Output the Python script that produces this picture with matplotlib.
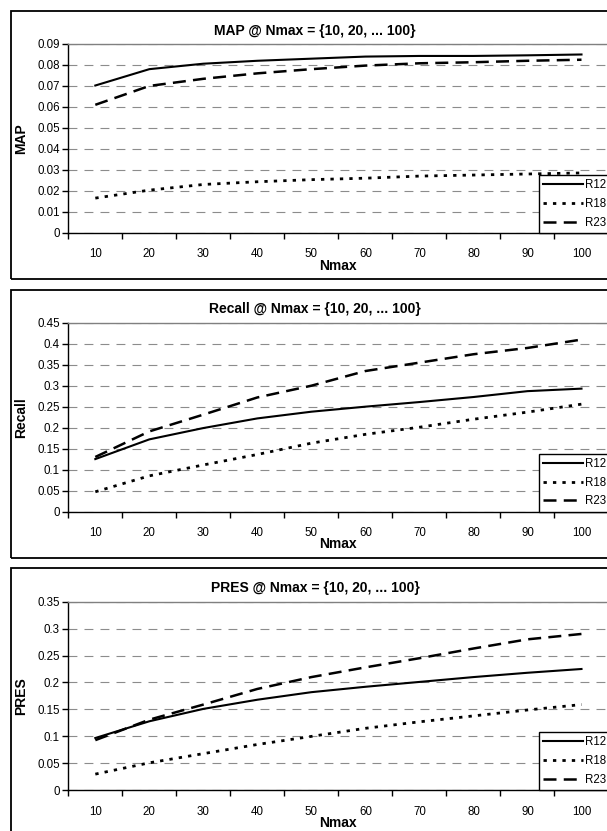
import numpy as np
import matplotlib
matplotlib.use("Agg")
import matplotlib.pyplot as plt
from matplotlib.patches import Rectangle

plt.rcParams['font.family'] = ['Liberation Sans', 'DejaVu Sans']

# categorias do eixo x
nmax = ['10', '20', '30', '40', '50', '60', '70', '80', '90', '100']
series_names = ['R12', 'R18', 'R23']

# MAP
map_r12 = [0.0702, 0.0780, 0.0806, 0.0820, 0.0830, 0.0840, 0.0843, 0.0843, 0.0846, 0.0850]
map_r18 = [0.0165, 0.0203, 0.0230, 0.0243, 0.0253, 0.0260, 0.0270, 0.0275, 0.0280, 0.0285]
map_r23 = [0.0610, 0.0700, 0.0734, 0.0760, 0.0780, 0.0797, 0.0808, 0.0813, 0.0820, 0.0825]

# Recall
recall_r12 = [0.125, 0.172, 0.199, 0.222, 0.238, 0.250, 0.261, 0.273, 0.287, 0.293]
recall_r18 = [0.047, 0.085, 0.111, 0.136, 0.163, 0.184, 0.201, 0.220, 0.237, 0.256]
recall_r23 = [0.130, 0.191, 0.231, 0.272, 0.300, 0.335, 0.355, 0.375, 0.390, 0.410]

# PRES
pres_r12 = [0.097, 0.128, 0.151, 0.168, 0.182, 0.192, 0.201, 0.210, 0.218, 0.225]
pres_r18 = [0.030, 0.051, 0.068, 0.085, 0.100, 0.115, 0.127, 0.138, 0.149, 0.159]
pres_r23 = [0.093, 0.131, 0.159, 0.188, 0.210, 0.228, 0.245, 0.263, 0.280, 0.290]

map_yticks = ['0', '0.01', '0.02', '0.03', '0.04', '0.05', '0.06', '0.07', '0.08', '0.09']
recall_yticks = ['0', '0.05', '0.1', '0.15', '0.2', '0.25', '0.3', '0.35', '0.4', '0.45']
pres_yticks = ['0', '0.05', '0.1', '0.15', '0.2', '0.25', '0.3', '0.35']

panels = [
    ('MAP @ Nmax = {10, 20, ... 100}', 'MAP', [map_r12, map_r18, map_r23], map_yticks),
    ('Recall @ Nmax = {10, 20, ... 100}', 'Recall', [recall_r12, recall_r18, recall_r23], recall_yticks),
    ('PRES @ Nmax = {10, 20, ... 100}', 'PRES', [pres_r12, pres_r18, pres_r23], pres_yticks),
]

styles = [
    dict(color='black', lw=1.5, linestyle='-'),
    dict(color='black', lw=2.0, linestyle=(0, (1.2, 2.2)), dash_capstyle='butt'),
    dict(color='black', lw=1.8, linestyle=(0, (5.2, 2.9)), dash_capstyle='butt'),
]

W, H = 607, 831
pitch = 278.8

fig = plt.figure(figsize=(W / 100, H / 100), dpi=100)

for i, (title, ylabel, data, yticks) in enumerate(panels):
    off = i * pitch
    top = 44 + off
    bot = 232.7 + off

    # moldura do painel (lado direito fica fora da imagem)
    fig.patches.append(Rectangle((10.7 / W, 1 - (278.7 + off) / H), 1.2, 268 / H,
                                 fill=False, lw=1.3, edgecolor='black',
                                 transform=fig.transFigure, figure=fig))

    ax = fig.add_axes([68.3 / W, 1 - bot / H, (608.5 - 68.3) / W, (bot - top) / H])
    x = np.arange(len(nmax)) + 0.5
    for vals, name, st in zip(data, series_names, styles):
        ax.plot(x, vals, label=name, **st)

    yvals = [float(t) for t in yticks]
    ax.set_xlim(0, len(nmax))
    ax.set_ylim(0, yvals[-1])
    ax.set_yticks(yvals)
    ax.set_yticklabels(yticks)
    ax.set_xticks(x)
    ax.set_xticklabels(nmax)
    ax.set_xticks(np.arange(len(nmax) + 1), minor=True)
    ax.tick_params(axis='x', which='major', length=0, pad=11, labelsize=8.3)
    ax.tick_params(axis='x', which='minor', length=4, width=1, direction='out')
    ax.tick_params(axis='y', length=4, width=1, direction='out', pad=2, labelsize=8.3)

    ax.yaxis.grid(True, color='#8c8c8c', lw=0.8, linestyle=(0, (8, 6.4)))
    ax.set_axisbelow(True)
    ax.spines['right'].set_visible(False)
    ax.spines['top'].set_color('#808080')
    ax.spines['top'].set_linewidth(1.0)
    ax.spines['left'].set_linewidth(1.0)
    ax.spines['bottom'].set_linewidth(1.0)

    fig.text(315 / W, 1 - (30.5 + off) / H, title, ha='center', va='center',
             fontsize=10, fontweight='bold')
    fig.text(338 / W, 1 - (265.7 + off) / H, 'Nmax', ha='center', va='center',
             fontsize=10, fontweight='bold')
    fig.text(21 / W, 1 - ((top + bot) / 2) / H, ylabel, ha='center', va='center',
             rotation=90, fontsize=10, fontweight='bold')

    leg = ax.legend(loc='lower left', bbox_to_anchor=(0.872, 0.0), fontsize=8.3,
                    frameon=True, fancybox=False, edgecolor='black', framealpha=1,
                    borderaxespad=0, handlelength=3.4, handletextpad=0.2,
                    labelspacing=0.6, borderpad=0.35)
    leg.get_frame().set_linewidth(1.0)

fig.savefig('out.png', dpi=100)
